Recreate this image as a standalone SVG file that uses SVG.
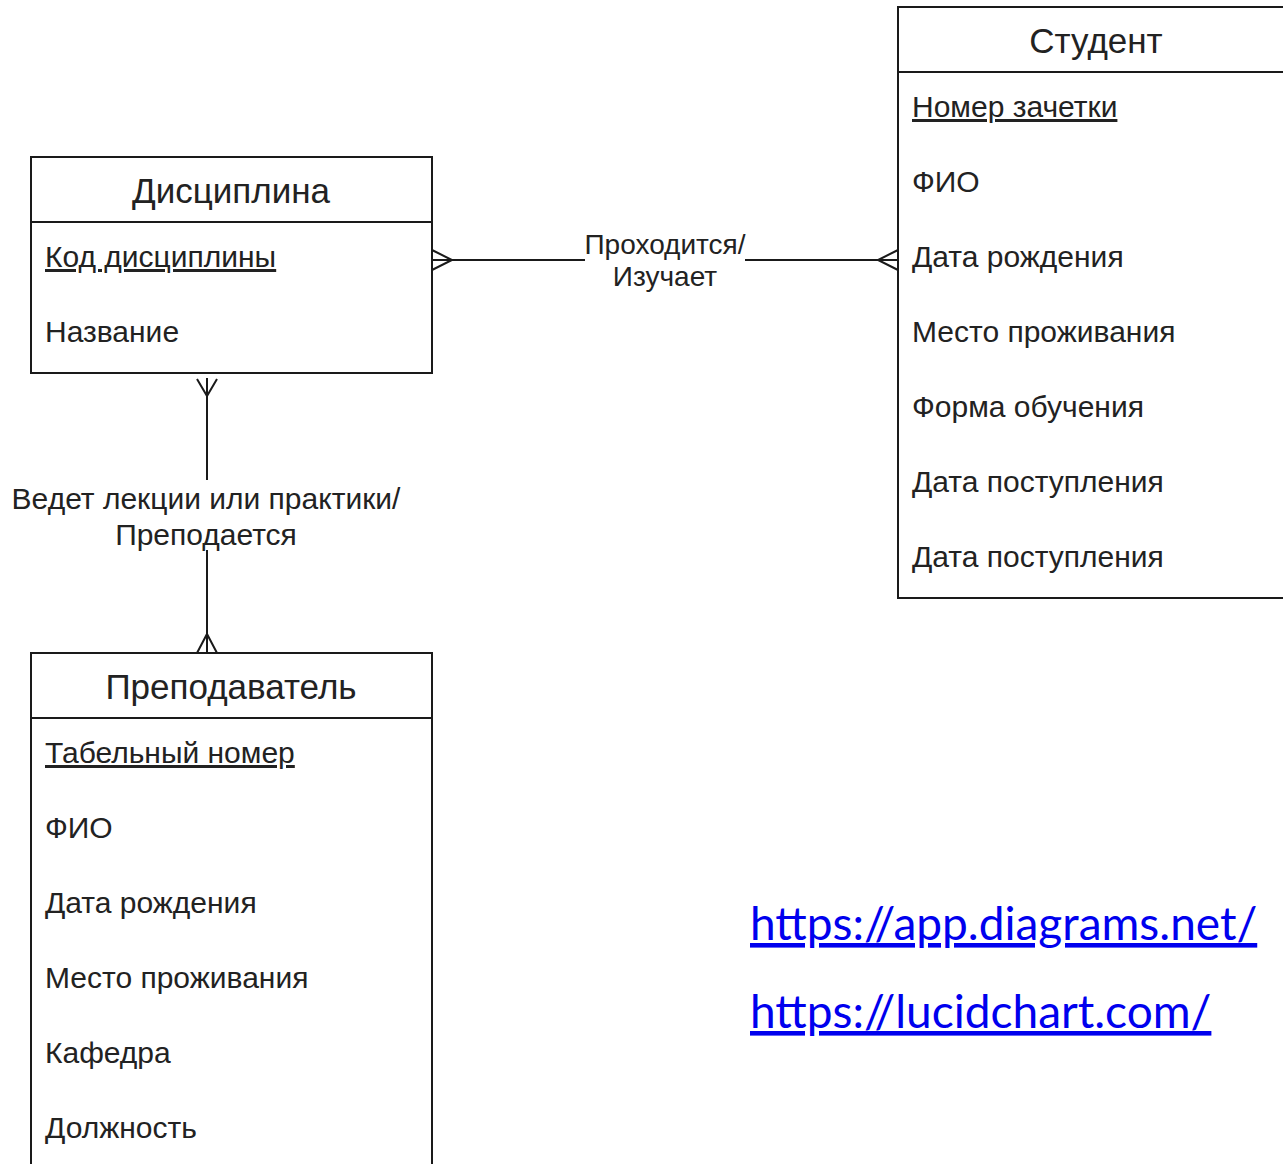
<svg xmlns="http://www.w3.org/2000/svg" width="1283" height="1164" viewBox="0 0 1283 1164">
  <style>
    .box { fill: #ffffff; stroke: #1a1a1a; stroke-width: 2; }
    .sep { stroke: #1a1a1a; stroke-width: 2; }
    .title { font-family: "Liberation Sans", Arial, sans-serif; font-size: 35px; fill: #222; text-anchor: middle; }
    .attr { font-family: "Liberation Sans", Arial, sans-serif; font-size: 30px; fill: #222; }
    .key { text-decoration: underline; }
    .lbl { font-family: "Liberation Sans", Arial, sans-serif; font-size: 28px; fill: #222; text-anchor: middle; }
    .lbl2 { font-size: 30px; }
    .edge { fill: none; stroke: #1a1a1a; stroke-width: 2; }
    .link { font-family: Lato, "Liberation Sans", sans-serif; font-size: 46px; fill: #0000ee; text-decoration: underline; }
  </style>
  <rect width="1283" height="1164" fill="#ffffff"/>

  <g id="connectors">
    <!-- Дисциплина — Студент -->
    <path class="edge" d="M432 260 H585 M745 260 H898"/>
    <path class="edge" d="M432 250 L452 260 L432 270"/>
    <path class="edge" d="M898 250 L878 260 L898 270"/>
    <text class="lbl" x="665" y="254">Проходится/</text>
    <text class="lbl" x="665" y="286">Изучает</text>
    <!-- Дисциплина — Преподаватель -->
    <path class="edge" d="M207 378 V480 M207 550 V653"/>
    <path class="edge" d="M197 379 L207 396 L217 379"/>
    <path class="edge" d="M197 653 L207 634 L217 653"/>
    <text class="lbl lbl2" x="206" y="509">Ведет лекции или практики/</text>
    <text class="lbl lbl2" x="206" y="545">Преподается</text>
  </g>

  <g id="discipline">
    <rect class="box" x="31" y="157" width="401" height="216"/>
    <line class="sep" x1="31" y1="222" x2="432" y2="222"/>
    <text class="title" x="231" y="203">Дисциплина</text>
    <text class="attr key" x="45" y="267">Код дисциплины</text>
    <text class="attr" x="45" y="342">Название</text>
  </g>

  <g id="student">
    <rect class="box" x="898" y="7" width="400" height="591"/>
    <line class="sep" x1="898" y1="72" x2="1283" y2="72"/>
    <text class="title" x="1096" y="53">Студент</text>
    <text class="attr key" x="912" y="117">Номер зачетки</text>
    <text class="attr" x="912" y="192">ФИО</text>
    <text class="attr" x="912" y="267">Дата рождения</text>
    <text class="attr" x="912" y="342">Место проживания</text>
    <text class="attr" x="912" y="417">Форма обучения</text>
    <text class="attr" x="912" y="492">Дата поступления</text>
    <text class="attr" x="912" y="567">Дата поступления</text>
  </g>

  <g id="teacher">
    <rect class="box" x="31" y="653" width="401" height="530"/>
    <line class="sep" x1="31" y1="718" x2="432" y2="718"/>
    <text class="title" x="231" y="699">Преподаватель</text>
    <text class="attr key" x="45" y="763">Табельный номер</text>
    <text class="attr" x="45" y="838">ФИО</text>
    <text class="attr" x="45" y="913">Дата рождения</text>
    <text class="attr" x="45" y="988">Место проживания</text>
    <text class="attr" x="45" y="1063">Кафедра</text>
    <text class="attr" x="45" y="1138">Должность</text>
  </g>

  <g id="links">
    <text class="link" x="750" y="940">https://app.diagrams.net/</text>
    <text class="link" x="750" y="1028">https://lucidchart.com/</text>
  </g>
</svg>
